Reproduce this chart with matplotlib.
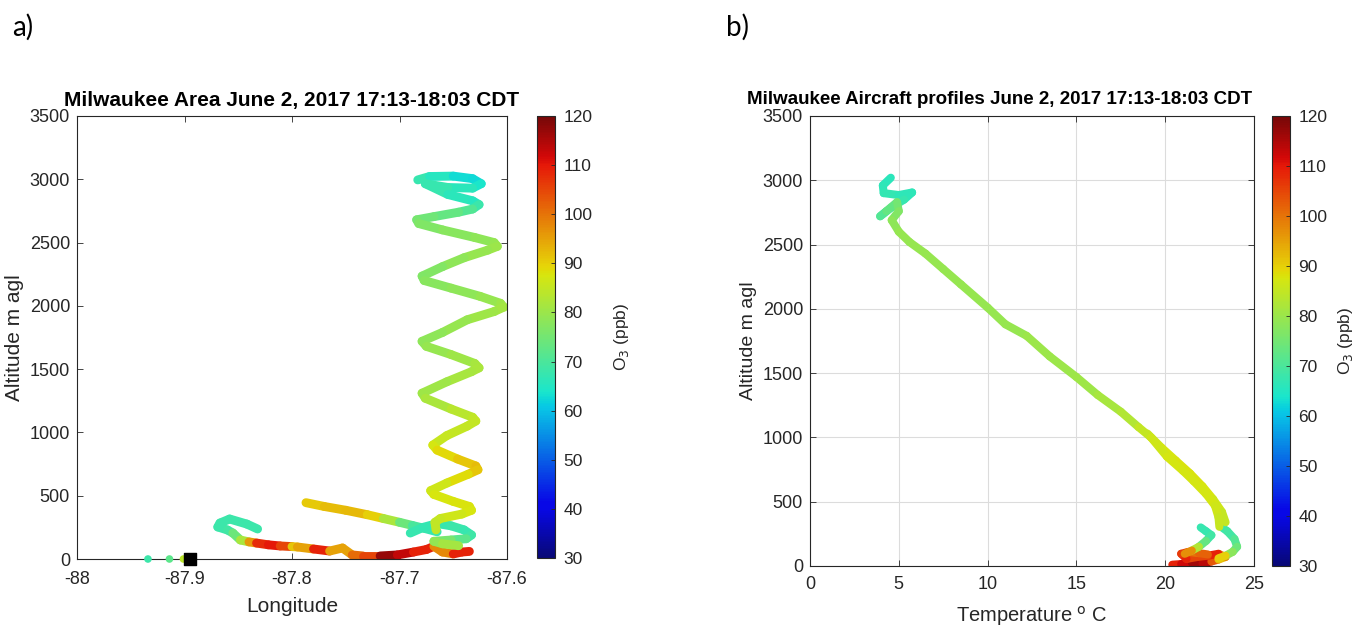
import numpy as np
import matplotlib
matplotlib.use("Agg")
import matplotlib.pyplot as plt
from matplotlib.collections import LineCollection
from matplotlib.colors import Normalize, ListedColormap

plt.rcParams['font.family'] = ['Liberation Sans', 'DejaVu Sans']
plt.rcParams['axes.unicode_minus'] = False

# ---- panel a) : longitude vs altitude ----
# spiral (descending)
sp_lon = [-87.683, -87.672, -87.650, -87.632, -87.624, -87.632, -87.655, -87.676,
          -87.655, -87.632, -87.626, -87.632, -87.645, -87.668, -87.684,
          -87.682, -87.660, -87.630, -87.612, -87.609, -87.618, -87.640, -87.660, -87.679,
          -87.677, -87.652, -87.625, -87.606, -87.603, -87.612, -87.637, -87.660, -87.679,
          -87.675, -87.652, -87.630, -87.626, -87.633, -87.656, -87.679,
          -87.676, -87.652, -87.632, -87.629, -87.637, -87.656, -87.669,
          -87.665, -87.646, -87.629, -87.627, -87.636, -87.656, -87.671,
          -87.668, -87.650, -87.635, -87.633, -87.642, -87.662, -87.667, -87.666]
sp_alt = [2995, 3022, 3025, 3005, 2965, 2930, 2935, 2965,
          2880, 2830, 2800, 2765, 2740, 2705, 2680,
          2650, 2600, 2540, 2500, 2470, 2440, 2380, 2310, 2235,
          2200, 2140, 2075, 2020, 1990, 1955, 1890, 1790, 1720,
          1680, 1615, 1545, 1510, 1480, 1400, 1310,
          1270, 1185, 1120, 1090, 1050, 975, 900,
          860, 790, 735, 705, 670, 600, 540,
          510, 455, 415, 385, 355, 320, 290, 230]
sp_o3 = [68, 67, 64, 62, 63, 65, 67, 68,
         67, 65, 66, 70, 72, 74, 75,
         76, 77, 78, 79, 80, 80, 79, 78, 76,
         77, 78, 79, 80, 81, 81, 80, 79, 78,
         79, 80, 81, 82, 82, 81, 80,
         81, 83, 84, 85, 85, 85, 86,
         88, 90, 92, 92, 90, 87, 86,
         87, 88, 88, 88, 87, 86, 85, 84]

# straight descent leg
dl_lon = [-87.787, -87.770, -87.750, -87.730, -87.715, -87.700, -87.688, -87.676, -87.665]
dl_alt = [445, 415, 385, 350, 320, 290, 265, 240, 215]
dl_o3 = [90, 91, 93, 92, 88, 76, 72, 68, 67]

# low loop near the spiral base
cl_lon = [-87.690, -87.678, -87.665, -87.652, -87.640, -87.633, -87.638, -87.652, -87.668, -87.660, -87.645]
cl_alt = [205, 250, 280, 262, 230, 190, 160, 150, 140, 120, 105]
cl_o3 = [68, 67, 67, 68, 68, 67, 70, 74, 78, 80, 82]

# hook and low-level track
lt_lon = [-87.832, -87.842, -87.858, -87.867, -87.869, -87.860, -87.855, -87.848, -87.840, -87.833,
          -87.822, -87.811, -87.800, -87.795, -87.780, -87.765, -87.753, -87.744, -87.734, -87.718,
          -87.702, -87.687, -87.675, -87.668, -87.660, -87.650, -87.642, -87.635]
lt_alt = [237, 276, 316, 284, 253, 229, 205, 150, 135, 126,
          112, 103, 98, 95, 79, 63, 87, 32, 24, 24,
          32, 55, 75, 100, 55, 40, 55, 60]
lt_o3 = [68, 68, 68, 68, 68, 68, 70, 78, 86, 106,
         110, 110, 100, 82, 108, 110, 80, 110, 92, 118,
         116, 110, 108, 110, 85, 110, 108, 110]

# ground points and airport
gd_lon = [-87.934, -87.914, -87.901]
gd_o3 = [68, 72, 84]
airport_lon = -87.895

# ---- panel b) : temperature vs altitude ----
pa_T = [4.55, 4.10, 4.15, 5.00, 5.75, 5.30, 4.60, 3.95, 4.30, 4.90,
        5.00, 4.60, 5.00, 5.60, 6.50, 7.50, 8.50, 10.0, 11.0, 12.2,
        13.5, 15.0, 16.2, 17.5, 18.5, 19.2, 20.1, 21.0, 21.6, 22.3,
        22.8, 23.0, 23.05]
pa_alt = [3020, 2960, 2900, 2885, 2905, 2850, 2790, 2720, 2760, 2830,
          2760, 2690, 2600, 2520, 2430, 2310, 2190, 2010, 1880, 1790,
          1630, 1470, 1330, 1200, 1080, 1000, 850, 740, 660, 560,
          470, 380, 305]
pa_o3 = [66, 66, 67, 67, 66, 67, 68, 70, 72, 74,
         76, 78, 79, 80, 79, 80, 79, 80, 79, 80,
         80, 80, 81, 82, 84, 86, 87, 87, 87, 87,
         87, 86, 85]

pb_T = [19.0, 19.8, 20.6, 21.4, 22.1, 22.7, 23.2, 23.4]
pb_alt = [1030, 920, 820, 720, 620, 520, 420, 340]
pb_o3 = [86, 87, 88, 88, 88, 87, 86, 84]

ph_T = [22.0, 22.3, 22.6, 22.3, 21.9, 21.5, 21.1]
ph_alt = [300, 270, 240, 195, 150, 120, 95]
ph_o3 = [68, 67, 68, 70, 76, 90, 104]

pr_T = [23.1, 23.5, 23.9, 24.05, 23.8, 23.4, 23.0]
pr_alt = [310, 270, 210, 150, 110, 80, 60]
pr_o3 = [68, 68, 70, 72, 76, 80, 100]

pd_T = [20.4, 20.9, 21.5, 22.1, 22.6, 23.0, 23.4, 23.0, 22.4, 21.8, 21.2, 20.9, 21.3, 21.9, 22.4]
pd_alt = [10, 15, 25, 20, 35, 50, 70, 95, 80, 70, 55, 95, 110, 100, 90]
pd_o3 = [108, 110, 114, 118, 110, 96, 88, 108, 110, 100, 110, 108, 104, 96, 108]

o3_ticks = list(range(30, 121, 10))

norm = Normalize(30, 120)
# slightly muted jet, like the printed figure
jet_rgb = plt.get_cmap('jet')(np.linspace(0, 1, 256))[:, :3]
cmap = ListedColormap(jet_rgb * 0.87 + 0.03)
txt = '#262626'


def draw_path(ax, xs, ys, vals, lw):
    pts = np.column_stack([xs, ys])
    segs = np.stack([pts[:-1], pts[1:]], axis=1)
    v = np.asarray(vals, float)
    lc = LineCollection(segs, cmap=cmap, norm=norm, linewidths=lw,
                        capstyle='round', joinstyle='round')
    lc.set_array((v[:-1] + v[1:]) / 2)
    ax.add_collection(lc)
    return lc


def style(ax, xpad):
    for s in ax.spines.values():
        s.set_color(txt)
        s.set_linewidth(0.8)
    ax.tick_params(direction='in', top=True, right=True, length=4,
                   colors=txt, labelsize=13, width=0.6)
    ax.tick_params(axis='x', pad=xpad)
    ax.tick_params(axis='y', pad=5)


fig = plt.figure(figsize=(13.54, 6.26), dpi=100)
W, H = 1354, 626

# panel a
ax1 = fig.add_axes([77 / W, 1 - 559 / H, 430 / W, 443 / H])
draw_path(ax1, lt_lon, lt_alt, lt_o3, 6.4)
draw_path(ax1, dl_lon, dl_alt, dl_o3, 6.4)
draw_path(ax1, cl_lon, cl_alt, cl_o3, 6.4)
draw_path(ax1, sp_lon, sp_alt, sp_o3, 6.4)
ax1.scatter(gd_lon, [0] * len(gd_lon), c=gd_o3, cmap=cmap, norm=norm, s=30,
            clip_on=False, zorder=5, linewidths=0)
ax1.scatter([airport_lon], [0], marker='s', c='black', s=70, clip_on=False, zorder=6)
ax1.set_xlim(-88, -87.6)
ax1.set_ylim(0, 3500)
ax1.set_xticks([-88, -87.9, -87.8, -87.7, -87.6])
ax1.set_xticklabels(['-88', '-87.9', '-87.8', '-87.7', '-87.6'])
ax1.set_yticks(range(0, 3501, 500))
style(ax1, 9)
ax1.set_xlabel('Longitude', fontsize=15, color=txt, labelpad=6)
ax1.set_ylabel('Altitude m agl', fontsize=15, color=txt, labelpad=4)
ax1.set_title('Milwaukee Area June 2, 2017 17:13-18:03 CDT', fontsize=15,
              fontweight='bold', pad=7)

sm = plt.cm.ScalarMappable(norm=norm, cmap=cmap)
cax1 = fig.add_axes([537 / W, 1 - 558 / H, 18 / W, 442 / H])
cb1 = fig.colorbar(sm, cax=cax1, ticks=o3_ticks)
cb1.outline.set_edgecolor(txt)
cb1.outline.set_linewidth(0.8)
cb1.ax.tick_params(direction='in', length=3, colors=txt, labelsize=12.5, width=0.6, pad=6)
cb1.set_label('O$_3$ (ppb)', fontsize=12.5, color=txt, labelpad=14)

# panel b
ax2 = fig.add_axes([810 / W, 1 - 566 / H, 444 / W, 450 / H])
ax2.grid(True, color='#dcdcdc', linewidth=0.8)
ax2.set_axisbelow(True)
draw_path(ax2, pd_T, pd_alt, pd_o3, 5.8)
draw_path(ax2, ph_T, ph_alt, ph_o3, 5.8)
draw_path(ax2, pr_T, pr_alt, pr_o3, 5.8)
draw_path(ax2, pb_T, pb_alt, pb_o3, 5.8)
draw_path(ax2, pa_T, pa_alt, pa_o3, 5.8)
ax2.set_xlim(0, 25)
ax2.set_ylim(0, 3500)
ax2.set_xticks(range(0, 26, 5))
ax2.set_yticks(range(0, 3501, 500))
style(ax2, 7)
ax2.set_xlabel('Temperature $^{\\mathrm{o}}$ C', fontsize=14.5, color=txt, labelpad=8)
ax2.set_ylabel('Altitude m agl', fontsize=14, color=txt, labelpad=4)
fig.text(1000 / W, 1 - 100 / H, 'Milwaukee Aircraft profiles June 2, 2017 17:13-18:03 CDT',
         fontsize=13.5, fontweight='bold', ha='center', va='center')

cax2 = fig.add_axes([1272 / W, 1 - 566 / H, 18 / W, 450 / H])
cb2 = fig.colorbar(sm, cax=cax2, ticks=o3_ticks)
cb2.outline.set_edgecolor(txt)
cb2.outline.set_linewidth(0.8)
cb2.ax.tick_params(direction='in', length=3, colors=txt, labelsize=12.5, width=0.6, pad=6)
cb2.set_label('O$_3$ (ppb)', fontsize=12.5, color=txt, labelpad=6)

fig.text(12 / W, 1 - 36 / H, 'a)', fontsize=20, family=['Lato', 'DejaVu Sans'], va='baseline')
fig.text(726 / W, 1 - 36 / H, 'b)', fontsize=20, family=['Lato', 'DejaVu Sans'], va='baseline')

plt.savefig('out.png', dpi=100)
